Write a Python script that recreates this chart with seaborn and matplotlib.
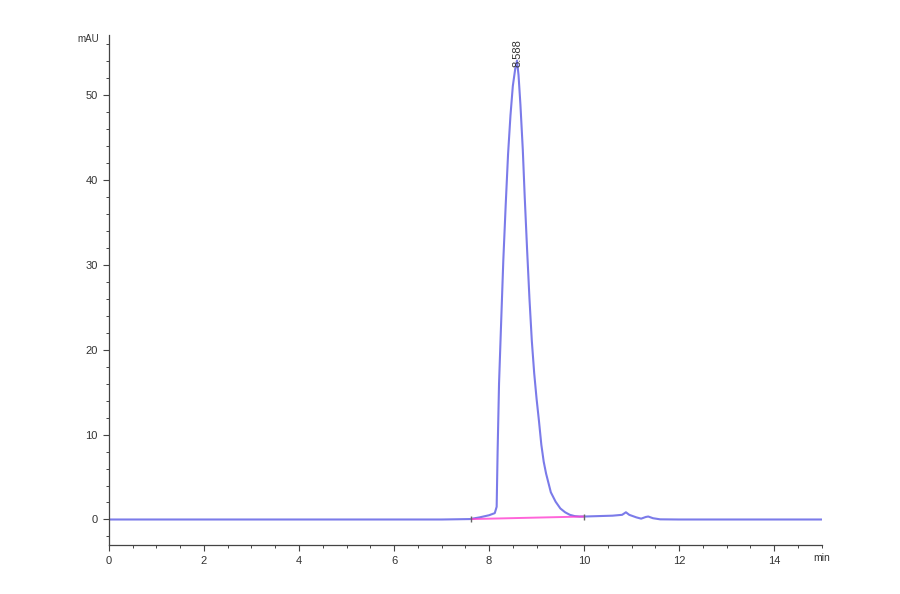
import matplotlib
matplotlib.use("Agg")
import matplotlib.pyplot as plt
from matplotlib.ticker import MultipleLocator
import seaborn as sns
import pandas as pd

# chromatogram (time in min, signal in mAU)
time_min = [0.0, 1.0, 2.0, 3.0, 4.0, 5.0, 6.0, 7.0, 7.6, 7.8, 8.0, 8.12, 8.16, 8.18,
            8.21, 8.25, 8.30, 8.35, 8.40, 8.45, 8.50, 8.55, 8.588, 8.62, 8.66, 8.71,
            8.75, 8.80, 8.85, 8.90, 8.95, 9.00, 9.05, 9.10, 9.15, 9.20, 9.25, 9.30,
            9.40, 9.50, 9.60, 9.70, 9.80, 9.90, 10.0, 10.3, 10.6, 10.8, 10.88, 10.95,
            11.1, 11.2, 11.3, 11.35, 11.45, 11.6, 12.0, 13.0, 14.0, 15.0]
signal_mau = [0.0, 0.0, 0.0, 0.0, 0.0, 0.0, 0.0, 0.0, 0.05, 0.25, 0.5, 0.75, 1.5, 8.0,
              16.0, 22.5, 30.5, 37.0, 43.0, 47.5, 51.0, 53.0, 54.0, 52.3, 48.8, 43.5,
              38.0, 31.8, 26.0, 21.0, 17.2, 14.2, 11.6, 8.8, 6.8, 5.4, 4.3, 3.2,
              2.1, 1.3, 0.85, 0.55, 0.4, 0.35, 0.35, 0.4, 0.45, 0.55, 0.85, 0.55,
              0.25, 0.1, 0.3, 0.35, 0.15, 0.02, 0.0, 0.0, 0.0, 0.0]

# integration baseline under the main peak
base_t = [7.63, 10.0]
base_y = [0.05, 0.35]

peak_rt = 8.588
peak_h = 54.0

sns.set_style("ticks")
plt.rcParams["font.family"] = ["Liberation Sans", "DejaVu Sans"]

fig = plt.figure(figsize=(9, 5.94), dpi=100)
ax = fig.add_axes([0.121, 0.0825, 0.792, 0.8585])

df = pd.DataFrame({"t": time_min, "mAU": signal_mau})
sns.lineplot(data=df, x="t", y="mAU", ax=ax, color="#6464e6", lw=1.5, alpha=0.85)
ax.plot(base_t, base_y, color="#ff3fd0", lw=1.4, alpha=0.8)
ax.plot(base_t, base_y, ls="none", marker="|", ms=5, color="#666666")

ax.text(peak_rt, peak_h - 0.8, f"{peak_rt:.3f}", rotation=90, ha="center", va="bottom",
        fontsize=8, color="#333333")

ax.set_xlim(0, 15)
ax.set_ylim(-3, 57)
ax.xaxis.set_major_locator(MultipleLocator(2))
ax.xaxis.set_minor_locator(MultipleLocator(0.5))
ax.yaxis.set_major_locator(MultipleLocator(10))
ax.yaxis.set_minor_locator(MultipleLocator(2))
ax.set_xticks(range(0, 15, 2))
ax.set_yticks(range(0, 51, 10))
ax.tick_params(which="major", length=4, width=0.8, color="#444444", labelsize=8,
               labelcolor="#333333", pad=4)
ax.tick_params(which="minor", length=2.5, width=0.7, color="#444444")
ax.set_xlabel("")
ax.set_ylabel("")
sns.despine(ax=ax)
for s in ("left", "bottom"):
    ax.spines[s].set_color("#444444")
    ax.spines[s].set_linewidth(0.9)

ax.text(-0.2, 56.5, "mAU", ha="right", va="center", fontsize=7, color="#333333")
ax.text(15.0, -4.0, "min", ha="center", va="top", fontsize=7.5, color="#333333")

fig.savefig("out.png", dpi=100)
